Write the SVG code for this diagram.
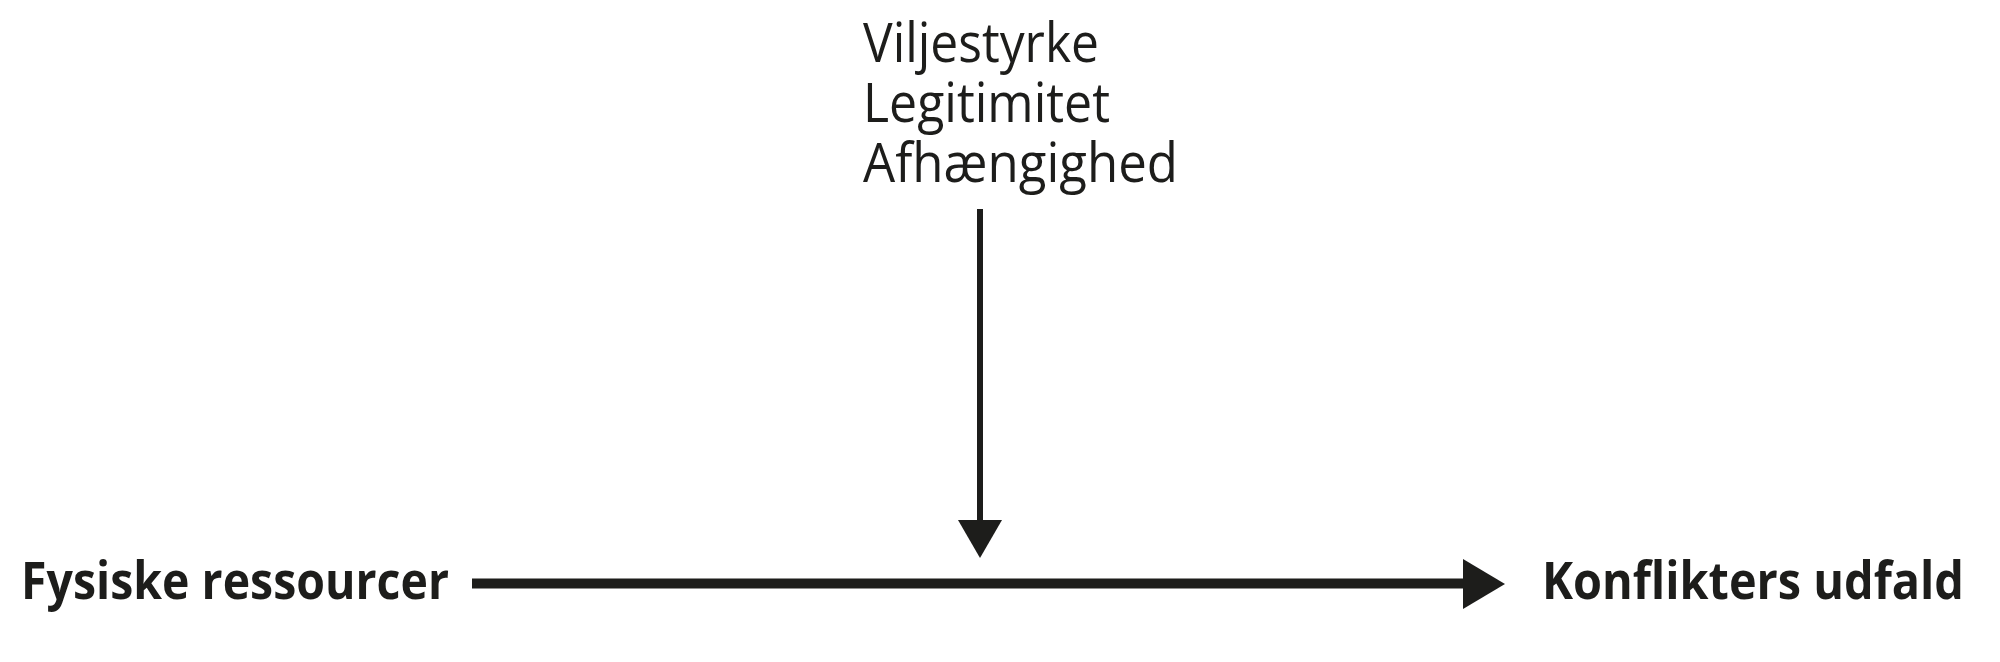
<svg xmlns="http://www.w3.org/2000/svg" width="2000" height="662" viewBox="0 0 2000 662">
<style>
.lbl{font-family:"Open Sans","Noto Sans","Liberation Sans",sans-serif;fill:#1d1d1b}
.top{font-size:54px;font-weight:400}
.main{font-size:52px;font-weight:700}
.conn{stroke:#1d1d1b;fill:none}
</style>
<defs>
<marker id="headV" markerUnits="userSpaceOnUse" viewBox="0 0 44 38" refX="22" refY="38" markerWidth="44" markerHeight="38" orient="auto-start-reverse">
</marker>
</defs>
<rect width="2000" height="662" fill="#ffffff"/>
<g id="node-modifiers">
<text class="lbl top" x="863" y="62" textLength="236" lengthAdjust="spacingAndGlyphs">Viljestyrke</text>
<text class="lbl top" x="863" y="122" textLength="247" lengthAdjust="spacingAndGlyphs">Legitimitet</text>
<text class="lbl top" x="863" y="182" textLength="315" lengthAdjust="spacingAndGlyphs">Afhængighed</text>
</g>
<g id="node-fysiske">
<text class="lbl main" x="21" y="599" textLength="428" lengthAdjust="spacingAndGlyphs">Fysiske ressourcer</text>
</g>
<g id="node-konflikt">
<text class="lbl main" x="1542" y="599" textLength="422" lengthAdjust="spacingAndGlyphs">Konflikters udfald</text>
</g>
<g id="connectors">
<line class="conn" x1="980" y1="209" x2="980" y2="522" stroke-width="6"/>
<polygon points="958,520 1002,520 980,558" fill="#1d1d1b"/>
<line class="conn" x1="472" y1="583.5" x2="1465" y2="583.5" stroke-width="10"/>
<polygon points="1463,559 1505,584 1463,609" fill="#1d1d1b"/>
</g>
</svg>
